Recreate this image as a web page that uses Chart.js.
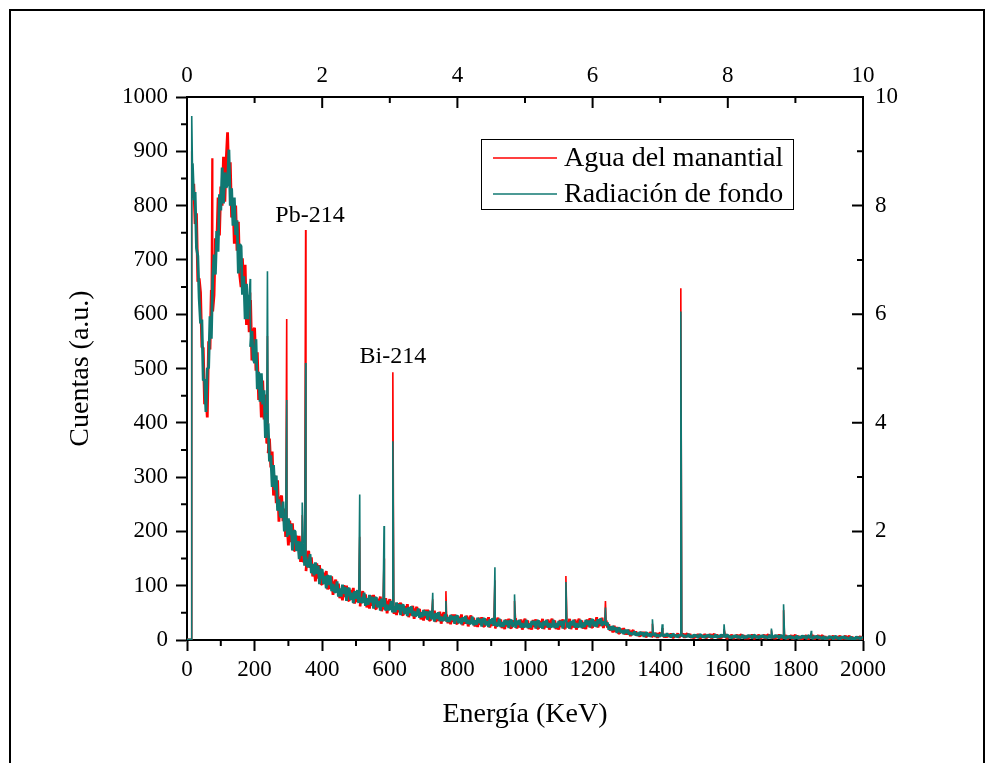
<!DOCTYPE html>
<html>
<head>
<meta charset="utf-8">
<script src="https://cdn.jsdelivr.net/npm/chart.js@4.4.1/dist/chart.umd.min.js"></script>
<style>
  html, body { margin: 0; background: #fff; overflow: hidden; }
  .marco { position: absolute; left: 9px; top: 9px; width: 976px; height: 820px; border: 2px solid #000; box-sizing: border-box; }
  canvas { position: absolute; left: 0; top: 0; }
</style>
</head>
<body>
<div class="marco"></div>
<canvas id="espectro" width="989" height="763"></canvas>
<script>
// energias del espectro (keV), una fila = 40 keV
const energia = [
  0, 4, 8, 12, 16, 20, 24, 28, 32, 36,
  40, 44, 48, 52, 56, 60, 64, 68, 72, 76,
  80, 84, 88, 92, 96, 100, 104, 108, 112, 116,
  120, 124, 128, 132, 136, 140, 144, 148, 152, 156,
  160, 164, 168, 172, 176, 180, 184, 188, 192, 196,
  200, 204, 208, 212, 216, 220, 224, 228, 232, 236,
  240, 244, 248, 252, 256, 260, 264, 268, 272, 276,
  280, 284, 288, 292, 296, 300, 304, 308, 312, 316,
  320, 324, 328, 332, 336, 340, 344, 348, 352, 356,
  360, 364, 368, 372, 376, 380, 384, 388, 392, 396,
  400, 404, 408, 412, 416, 420, 424, 428, 432, 436,
  440, 444, 448, 452, 456, 460, 464, 468, 472, 476,
  480, 484, 488, 492, 496, 500, 504, 508, 512, 516,
  520, 524, 528, 532, 536, 540, 544, 548, 552, 556,
  560, 564, 568, 572, 576, 580, 584, 588, 592, 596,
  600, 604, 608, 612, 616, 620, 624, 628, 632, 636,
  640, 644, 648, 652, 656, 660, 664, 668, 672, 676,
  680, 684, 688, 692, 696, 700, 704, 708, 712, 716,
  720, 724, 728, 732, 736, 740, 744, 748, 752, 756,
  760, 764, 768, 772, 776, 780, 784, 788, 792, 796,
  800, 804, 808, 812, 816, 820, 824, 828, 832, 836,
  840, 844, 848, 852, 856, 860, 864, 868, 872, 876,
  880, 884, 888, 892, 896, 900, 904, 908, 912, 916,
  920, 924, 928, 932, 936, 940, 944, 948, 952, 956,
  960, 964, 968, 972, 976, 980, 984, 988, 992, 996,
  1000, 1004, 1008, 1012, 1016, 1020, 1024, 1028, 1032, 1036,
  1040, 1044, 1048, 1052, 1056, 1060, 1064, 1068, 1072, 1076,
  1080, 1084, 1088, 1092, 1096, 1100, 1104, 1108, 1112, 1116,
  1120, 1124, 1128, 1132, 1136, 1140, 1144, 1148, 1152, 1156,
  1160, 1164, 1168, 1172, 1176, 1180, 1184, 1188, 1192, 1196,
  1200, 1204, 1208, 1212, 1216, 1220, 1224, 1228, 1232, 1236,
  1240, 1244, 1248, 1252, 1256, 1260, 1264, 1268, 1272, 1276,
  1280, 1284, 1288, 1292, 1296, 1300, 1304, 1308, 1312, 1316,
  1320, 1324, 1328, 1332, 1336, 1340, 1344, 1348, 1352, 1356,
  1360, 1364, 1368, 1372, 1376, 1380, 1384, 1388, 1392, 1396,
  1400, 1404, 1408, 1412, 1416, 1420, 1424, 1428, 1432, 1436,
  1440, 1444, 1448, 1452, 1456, 1460, 1464, 1468, 1472, 1476,
  1480, 1484, 1488, 1492, 1496, 1500, 1504, 1508, 1512, 1516,
  1520, 1524, 1528, 1532, 1536, 1540, 1544, 1548, 1552, 1556,
  1560, 1564, 1568, 1572, 1576, 1580, 1584, 1588, 1592, 1596,
  1600, 1604, 1608, 1612, 1616, 1620, 1624, 1628, 1632, 1636,
  1640, 1644, 1648, 1652, 1656, 1660, 1664, 1668, 1672, 1676,
  1680, 1684, 1688, 1692, 1696, 1700, 1704, 1708, 1712, 1716,
  1720, 1724, 1728, 1732, 1736, 1740, 1744, 1748, 1752, 1756,
  1760, 1764, 1768, 1772, 1776, 1780, 1784, 1788, 1792, 1796,
  1800, 1804, 1808, 1812, 1816, 1820, 1824, 1828, 1832, 1836,
  1840, 1844, 1848, 1852, 1856, 1860, 1864, 1868, 1872, 1876,
  1880, 1884, 1888, 1892, 1896, 1900, 1904, 1908, 1912, 1916,
  1920, 1924, 1928, 1932, 1936, 1940, 1944, 1948, 1952, 1956,
  1960, 1964, 1968, 1972, 1976, 1980, 1984, 1988, 1992, 1996,
  2000
];

// cuentas - agua del manantial
const agua = [
  0, 0, 0, 0, 814, 840, 766, 786, 660, 666,
  640, 539, 538, 434, 453, 410, 550, 535, 645, 605,
  635, 740, 725, 815, 745, 835, 800, 890, 807, 885,
  935, 843, 880, 778, 810, 730, 800, 717, 770, 672,
  650, 703, 642, 691, 580, 635, 567, 626, 515, 570,
  575, 496, 530, 442, 476, 410, 478, 406, 452, 362,
  344, 371, 318, 347, 266, 303, 252, 294, 218, 260,
  266, 219, 242, 190, 214, 174, 220, 180, 215, 166,
  164, 192, 167, 192, 144, 173, 143, 174, 127, 156,
  164, 133, 152, 117, 135, 108, 141, 113, 138, 104,
  102, 124, 107, 127, 93, 114, 94, 117, 83, 105,
  111, 88, 104, 77, 93, 73, 101, 79, 100, 74,
  72, 92, 78, 96, 67, 88, 70, 92, 62, 83,
  90, 69, 84, 60, 76, 58, 82, 63, 83, 59,
  57, 76, 63, 80, 53, 72, 56, 77, 49, 69,
  75, 56, 70, 48, 62, 46, 68, 51, 69, 47,
  46, 62, 51, 66, 42, 59, 45, 63, 39, 55,
  61, 45, 57, 38, 50, 36, 56, 40, 56, 37,
  36, 51, 41, 54, 33, 48, 35, 52, 30, 45,
  51, 36, 47, 31, 41, 29, 47, 33, 47, 31,
  30, 43, 34, 47, 27, 41, 30, 45, 25, 39,
  45, 31, 41, 25, 36, 24, 41, 28, 42, 26,
  25, 39, 29, 42, 23, 37, 26, 41, 21, 35,
  41, 27, 38, 22, 32, 20, 38, 25, 39, 23,
  22, 36, 27, 40, 21, 34, 23, 38, 19, 33,
  39, 25, 36, 20, 31, 19, 37, 24, 38, 22,
  21, 35, 26, 39, 20, 34, 23, 38, 19, 33,
  39, 25, 36, 20, 31, 19, 37, 24, 38, 22,
  21, 35, 26, 39, 20, 34, 23, 38, 19, 33,
  39, 25, 36, 21, 32, 20, 38, 25, 40, 24,
  23, 37, 28, 42, 23, 37, 26, 41, 22, 36,
  36, 23, 29, 17, 23, 14, 26, 15, 24, 13,
  12, 21, 14, 22, 10, 18, 10, 19, 7, 15,
  18, 10, 16, 8, 12, 6, 15, 8, 15, 7,
  6, 13, 8, 15, 5, 12, 6, 13, 4, 11,
  13, 7, 12, 5, 10, 5, 11, 6, 12, 5,
  5, 10, 7, 12, 4, 10, 6, 12, 4, 10,
  12, 6, 11, 4, 8, 3, 10, 5, 11, 4,
  4, 9, 6, 11, 3, 9, 5, 11, 3, 9,
  11, 5, 10, 3, 8, 3, 10, 5, 11, 4,
  3, 8, 5, 10, 2, 8, 4, 10, 2, 8,
  10, 4, 9, 2, 7, 2, 9, 4, 10, 3,
  3, 8, 5, 10, 2, 8, 4, 10, 2, 8,
  10, 4, 9, 2, 7, 2, 9, 4, 10, 3,
  2, 7, 4, 9, 1, 7, 3, 9, 1, 7,
  9, 3, 8, 1, 6, 1, 8, 3, 9, 2,
  2, 7, 4, 9, 1, 7, 3, 9, 1, 7,
  8, 2, 7, 0, 5, 0, 7, 2, 8, 1,
  1, 6, 3, 8, 0, 6, 2, 8, 0, 6,
  7, 2, 6, 0, 4, 0, 6, 2, 7, 1,
  2
];

// cuentas - radiacion de fondo
const fondo = [
  0, 0, 0, 0, 878, 810, 825, 722, 707, 629,
  583, 590, 478, 480, 420, 500, 501, 596, 555, 667,
  710, 673, 753, 715, 821, 791, 870, 804, 861, 833,
  840, 903, 800, 832, 763, 815, 746, 773, 675, 729,
  725, 636, 670, 591, 656, 591, 637, 540, 569, 518,
  510, 554, 462, 494, 439, 491, 434, 460, 372, 417,
  399, 329, 340, 282, 322, 276, 303, 238, 259, 228,
  226, 255, 200, 223, 190, 224, 193, 214, 165, 201,
  200, 164, 182, 149, 181, 155, 177, 137, 154, 135,
  136, 158, 123, 140, 119, 143, 122, 137, 103, 128,
  130, 103, 118, 95, 120, 101, 119, 90, 103, 89,
  88, 108, 80, 95, 80, 102, 85, 98, 72, 93,
  96, 74, 87, 68, 90, 76, 92, 68, 80, 69,
  70, 87, 63, 77, 65, 83, 69, 80, 58, 76,
  79, 60, 72, 54, 76, 61, 76, 54, 65, 56,
  57, 72, 51, 63, 51, 69, 56, 66, 46, 63,
  65, 48, 59, 44, 61, 50, 62, 44, 53, 44,
  46, 58, 41, 51, 42, 55, 45, 53, 37, 50,
  53, 38, 48, 34, 50, 39, 51, 35, 43, 36,
  37, 48, 33, 42, 33, 46, 37, 44, 30, 43,
  45, 31, 40, 29, 42, 34, 44, 30, 37, 30,
  31, 43, 27, 36, 28, 41, 31, 39, 25, 38,
  40, 27, 35, 24, 38, 30, 40, 26, 33, 26,
  27, 39, 24, 33, 24, 37, 28, 36, 22, 35,
  37, 24, 33, 22, 36, 28, 37, 23, 31, 24,
  25, 37, 22, 30, 23, 35, 28, 35, 21, 34,
  36, 23, 32, 21, 35, 27, 37, 23, 31, 24,
  25, 37, 22, 31, 23, 35, 27, 35, 21, 34,
  36, 23, 32, 21, 35, 27, 37, 23, 31, 24,
  25, 37, 22, 32, 24, 37, 28, 36, 23, 36,
  38, 25, 34, 24, 38, 30, 40, 26, 34, 28,
  26, 32, 19, 25, 18, 26, 19, 23, 13, 21,
  22, 13, 18, 11, 19, 13, 19, 10, 14, 10,
  11, 16, 8, 13, 8, 15, 10, 14, 6, 12,
  14, 7, 12, 6, 12, 8, 13, 6, 10, 7,
  7, 12, 6, 10, 7, 12, 7, 10, 5, 10,
  11, 6, 9, 5, 10, 7, 11, 6, 8, 6,
  7, 11, 5, 8, 5, 10, 7, 9, 4, 9,
  10, 5, 8, 4, 9, 6, 10, 5, 8, 5,
  6, 10, 4, 8, 5, 10, 6, 9, 4, 9,
  9, 4, 7, 3, 8, 5, 9, 4, 7, 4,
  5, 9, 3, 7, 4, 9, 6, 8, 3, 8,
  9, 4, 7, 3, 8, 5, 9, 4, 7, 4,
  5, 9, 3, 7, 4, 9, 6, 8, 3, 8,
  8, 3, 6, 2, 7, 4, 8, 3, 6, 3,
  4, 8, 2, 6, 3, 8, 5, 7, 2, 7,
  8, 3, 6, 2, 7, 4, 8, 3, 6, 3,
  3, 7, 1, 5, 2, 7, 4, 6, 1, 6,
  7, 2, 5, 1, 6, 3, 7, 2, 5, 2,
  2, 6, 1, 4, 1, 6, 3, 5, 1, 5,
  3
];

// picos (keV) y su altura en cada serie; null = sin pico
const picosEnergia = [14, 74, 187, 238, 295, 341, 351, 511, 583, 609, 727, 766, 911, 969, 1121, 1238, 1377, 1406, 1461, 1589, 1729, 1765, 1847];
const picosAgua = [900, 887, 640, 560, 591, 230, 755, 190, 150, 493, 75, 90, 110, 72, 118, 72, 30, 22, 648, 20, 18, 55, 12];
const picosFondo = [965, null, 665, 679, 442, 253, 510, 268, 210, 366, 87, 72, 134, 84, 107, 60, 38, 29, 605, 29, 21, 66, 17];

const etiquetasTexto = ['Pb-214', 'Bi-214'];
const etiquetasEnergia = [364, 609];
const etiquetasCuentas = [781, 521];

const series = ['Agua del manantial', 'Radiación de fondo'];
const colores = ['#ff0000', '#107872'];

if (agua.length !== energia.length || fondo.length !== energia.length) {
  console.error('longitudes distintas', energia.length, agua.length, fondo.length);
}

const fuente = "'Liberation Serif', 'Times New Roman', serif";
Chart.defaults.font.family = fuente;
Chart.defaults.color = '#000';

function serie(valores, picos) {
  const puntos = energia.map((e, i) => ({ x: e, y: valores[i] }));
  picosEnergia.forEach((e, i) => {
    if (picos[i] !== null) puntos.push({ x: e, y: picos[i] });
  });
  return puntos.sort((a, b) => a.x - b.x);
}

// los tramos que tocan un pico se dibujan finos, el fondo ruidoso mas grueso
function grosorTramo(ctx) {
  const a = ctx.p0.parsed.x;
  const b = ctx.p1.parsed.x;
  return picosEnergia.includes(a) || picosEnergia.includes(b) ? 1.6 : 2.8;
}

const marcasPlugin = {
  id: 'marcas',
  afterDraw(chart) {
    const ctx = chart.ctx;
    const { left, right, top, bottom } = chart.chartArea;
    const { x, y, x2, y2 } = chart.scales;
    ctx.save();
    ctx.strokeStyle = '#000';
    ctx.lineWidth = 2;
    ctx.beginPath();
    // marcas menores
    for (let v = 50; v < 1000; v += 100) {
      const py = y.getPixelForValue(v);
      ctx.moveTo(left - 6, py);
      ctx.lineTo(left, py);
    }
    for (let v = 100; v < 2000; v += 200) {
      const px = x.getPixelForValue(v);
      ctx.moveTo(px, bottom);
      ctx.lineTo(px, bottom + 6);
    }
    // marcas hacia dentro (ejes superior y derecho)
    for (let v = 1; v < 10; v++) {
      const len = v % 2 === 0 ? 11 : 6;
      const px = x2.getPixelForValue(v);
      ctx.moveTo(px, top);
      ctx.lineTo(px, top + len);
      const py = y2.getPixelForValue(v);
      ctx.moveTo(right, py);
      ctx.lineTo(right - len, py);
    }
    ctx.stroke();

    // etiquetas de picos
    ctx.fillStyle = '#000';
    ctx.font = '24px ' + fuente;
    ctx.textAlign = 'center';
    ctx.textBaseline = 'middle';
    etiquetasTexto.forEach((t, i) => {
      ctx.fillText(t, x.getPixelForValue(etiquetasEnergia[i]), y.getPixelForValue(etiquetasCuentas[i]));
    });

    // leyenda
    ctx.lineWidth = 1;
    ctx.strokeRect(481.5, 139.5, 312, 70);
    ctx.font = '28px ' + fuente;
    ctx.textAlign = 'left';
    series.forEach((s, i) => {
      const ly = 158 + i * 36;
      ctx.strokeStyle = colores[i];
      ctx.lineWidth = 1.3;
      ctx.beginPath();
      ctx.moveTo(493, ly);
      ctx.lineTo(557, ly);
      ctx.stroke();
      ctx.fillText(s, 564, ly + 1);
    });
    ctx.restore();
  }
};

const ejeNegro = { color: '#000', width: 2 };
const sinComas = (v) => String(v);

new Chart(document.getElementById('espectro'), {
  type: 'line',
  data: {
    datasets: [
      { label: series[0], data: serie(agua, picosAgua), borderColor: colores[0], borderWidth: 2.8, borderJoinStyle: 'bevel', pointRadius: 0, order: 1, segment: { borderWidth: grosorTramo } },
      { label: series[1], data: serie(fondo, picosFondo), borderColor: colores[1], borderWidth: 2.8, borderJoinStyle: 'bevel', pointRadius: 0, order: 0, segment: { borderWidth: grosorTramo } },
    ],
  },
  options: {
    responsive: false,
    animation: false,
    devicePixelRatio: 1,
    layout: { padding: 0 },
    elements: { line: { tension: 0 } },
    plugins: {
      legend: { display: false },
      tooltip: { enabled: false },
    },
    scales: {
      x: {
        type: 'linear',
        position: 'bottom',
        min: 0,
        max: 2000,
        afterFit: (s) => { s.height = 123; },
        ticks: { stepSize: 200, font: { size: 23 }, padding: 5, maxRotation: 0, autoSkip: false, callback: sinComas },
        grid: { drawOnChartArea: false, tickLength: 11, tickWidth: 2, tickColor: '#000' },
        border: ejeNegro,
        title: { display: true, text: 'Energía (KeV)', font: { size: 28 }, padding: { bottom: 32 } },
      },
      x2: {
        type: 'linear',
        position: 'top',
        min: 0,
        max: 10,
        afterFit: (s) => { s.height = 97; },
        ticks: { stepSize: 2, font: { size: 23 }, padding: 7, maxRotation: 0, autoSkip: false, callback: sinComas },
        grid: { drawOnChartArea: false, drawTicks: false },
        border: ejeNegro,
      },
      y: {
        type: 'linear',
        position: 'left',
        min: 0,
        max: 1000,
        afterFit: (s) => { s.width = 187; },
        ticks: { stepSize: 100, font: { size: 23 }, padding: 8, autoSkip: false, callback: sinComas },
        grid: { drawOnChartArea: false, tickLength: 11, tickWidth: 2, tickColor: '#000' },
        border: ejeNegro,
        title: { display: true, text: 'Cuentas (a.u.)', font: { size: 28 }, padding: { top: 64 } },
      },
      y2: {
        type: 'linear',
        position: 'right',
        min: 0,
        max: 10,
        afterFit: (s) => { s.width = 126; },
        ticks: { stepSize: 2, font: { size: 23 }, padding: 12, autoSkip: false, callback: sinComas },
        grid: { drawOnChartArea: false, drawTicks: false },
        border: ejeNegro,
      },
    },
  },
  plugins: [marcasPlugin],
});
</script>
</body>
</html>
